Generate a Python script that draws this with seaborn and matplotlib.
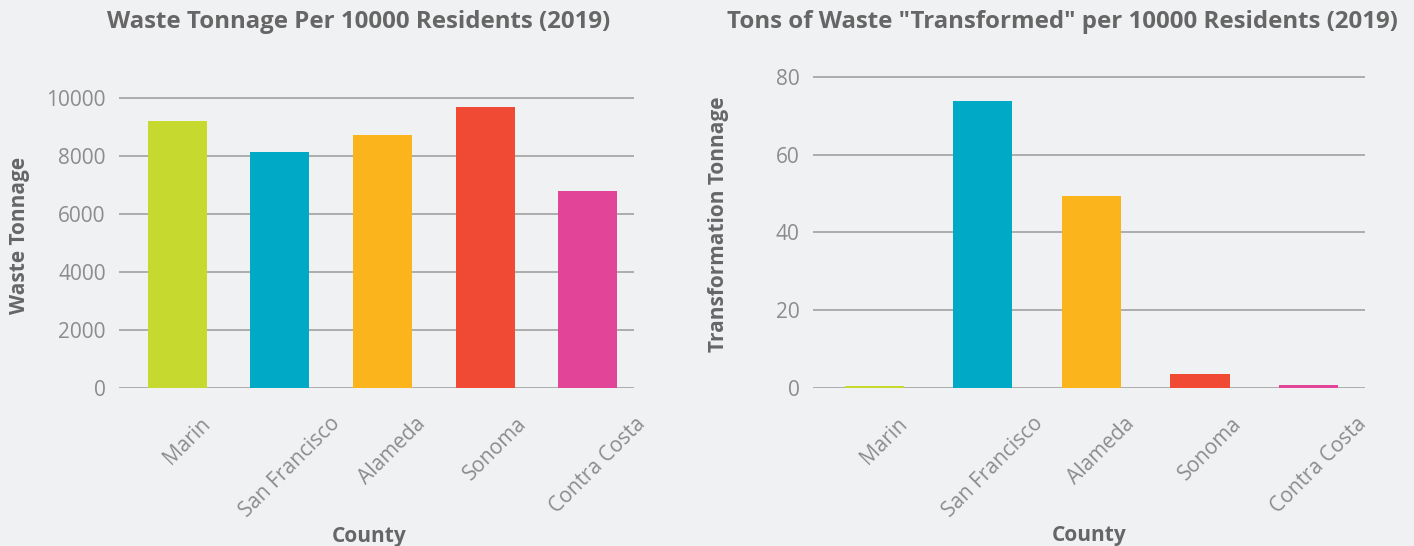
import matplotlib
matplotlib.use('Agg')
import matplotlib.pyplot as plt
import matplotlib.transforms as mtransforms
import seaborn as sns
import pandas as pd

# Values
counties = ['Marin', 'San Francisco', 'Alameda', 'Sonoma', 'Contra Costa']
waste_tonnage = [9200, 8130, 8715, 9680, 6790]
transformed_tonnage = [0.7, 73.8, 49.4, 3.7, 0.9]
bar_colors = ['#c6d92e', '#00aac6', '#fcb41d', '#f04a34', '#e24597']

left_ticks = [0, 2000, 4000, 6000, 8000, 10000]
right_ticks = [0, 20, 40, 60, 80]

df = pd.DataFrame({'County': counties,
                   'Waste': waste_tonnage,
                   'Transformed': transformed_tonnage})

bg = '#f0f1f3'
title_col = '#666666'
tick_col = '#8c8c8c'

sns.set_theme(style='white')
plt.rcParams['font.family'] = ['Open Sans', 'DejaVu Sans']

fig = plt.figure(figsize=(14.14, 5.46), dpi=100)
fig.patch.set_facecolor(bg)

W, H = 1414, 546
ax1 = fig.add_axes([119 / W, 1 - 388.4 / H, 515 / W, 305.4 / H])
ax2 = fig.add_axes([813 / W, 1 - 388.3 / H, 552 / W, 327.2 / H])

palette = dict(zip(counties, bar_colors))

sns.barplot(data=df, x='County', y='Waste', hue='County', palette=palette,
            legend=False, width=0.575, saturation=1, linewidth=0, ax=ax1)
sns.barplot(data=df, x='County', y='Transformed', hue='County', palette=palette,
            legend=False, width=0.545, saturation=1, linewidth=0, ax=ax2)

ax1.set_xlim(-0.568, 4.45)
ax1.set_ylim(0, 10500)
ax2.set_xlim(-0.565, 4.52)
ax2.set_ylim(0, 84)
ax1.set_yticks(left_ticks)
ax2.set_yticks(right_ticks)

for ax, ylab, yl_x, xl_y in [(ax1, 'Waste Tonnage', -0.173, -0.45),
                             (ax2, 'Transformation Tonnage', -0.152, -0.418)]:
    ax.set_facecolor(bg)
    for s in ax.spines.values():
        s.set_visible(False)
    ax.set_axisbelow(True)
    ax.yaxis.grid(True, color='#9a9a9a', linewidth=1.1)
    ax.tick_params(axis='both', length=0, labelsize=15, labelcolor=tick_col)
    ax.tick_params(axis='y', pad=9.5)
    ax.tick_params(axis='x', pad=0)
    ax.set_ylabel(ylab, fontsize=15, fontweight='bold', color=title_col)
    ax.yaxis.set_label_coords(yl_x, 0.5)
    ax.set_xlabel('County', fontsize=15, fontweight='bold', color=title_col)
    ax.xaxis.set_label_coords(0.485 if ax is ax1 else 0.5, xl_y)
    # labels: rotated box centred a little right of the bar, top aligned
    offset = mtransforms.ScaledTranslation(10 / 100, -25 / 100, fig.dpi_scale_trans)
    for lab in ax.get_xticklabels():
        lab.set_rotation(45)
        lab.set_ha('center')
        lab.set_va('top')
        lab.set_transform(lab.get_transform() + offset)

fig.text(359 / W, 1 - 22 / H, 'Waste Tonnage Per 10000 Residents (2019)',
         ha='center', va='center', fontsize=17.3, fontweight='bold', color=title_col)
fig.text(1062 / W, 1 - 22 / H, 'Tons of Waste "Transformed" per 10000 Residents (2019)',
         ha='center', va='center', fontsize=17.3, fontweight='bold', color=title_col)

fig.savefig('out.png', dpi=100, facecolor=bg)
